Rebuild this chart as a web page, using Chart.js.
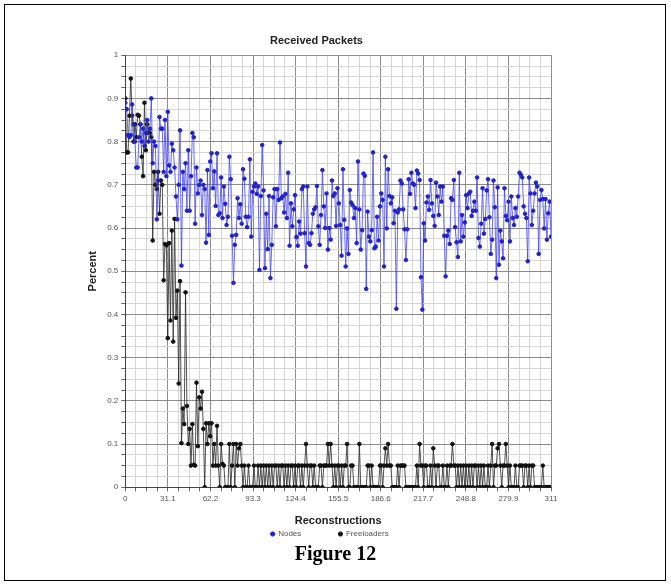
<!DOCTYPE html>
<html>
<head>
<meta charset="utf-8">
<script src="https://cdn.jsdelivr.net/npm/chart.js@4.4.0/dist/chart.umd.min.js"></script>
<style>
  html, body { margin: 0; padding: 0; background: #fff; }
  #frame {
    position: absolute; left: 4px; top: 4px; width: 662px; height: 577px;
    border: 1px solid #000; box-sizing: border-box;
  }
  #chartBox { position: absolute; left: 82px; top: 24px; width: 508px; height: 524px; }
  #caption {
    position: absolute; left: 0; top: 542px; width: 671px; text-align: center;
    font: bold 20px "Liberation Serif", "Times New Roman", serif; color: #000;
  }
</style>
</head>
<body>
<div id="frame"></div>
<div id="chartBox"><canvas id="packetsChart"></canvas></div>
<div id="caption">Figure 12</div>
<script>
// valores (indice = reconstruccion)
const seriesNames = ['Nodes', 'Freeloaders'];

const nodes = [
  0.89, 0.875, 0.815, 0.81, 0.815, 0.886, 0.84, 0.80, 0.74, 0.74,
  0.81, 0.84, 0.80, 0.83, 0.79, 0.82, 0.85, 0.80, 0.83, 0.90,
  0.75, 0.80, 0.79, 0.62, 0.71, 0.857, 0.83, 0.83, 0.73, 0.85,
  0.72, 0.869, 0.745, 0.73, 0.795, 0.78, 0.74, 0.673, 0.62, 0.70,
  0.826, 0.513, 0.73, 0.69, 0.75, 0.64, 0.78, 0.64, 0.72, 0.82,
  0.81, 0.61, 0.74, 0.68, 0.70, 0.71, 0.63, 0.70, 0.69, 0.566,
  0.734, 0.584, 0.754, 0.773, 0.692, 0.731, 0.651, 0.773, 0.630, 0.634,
  0.717, 0.623, 0.696, 0.656, 0.607, 0.626, 0.765, 0.713, 0.582, 0.473,
  0.561, 0.584, 0.669, 0.623, 0.655, 0.610, 0.736, 0.714, 0.626, 0.602,
  0.626, 0.759, 0.580, 0.684, 0.696, 0.703, 0.679, 0.696,
  0.503, 0.674, 0.792, 0.687, 0.507, 0.633, 0.551, 0.674, 0.484, 0.561,
  0.671, 0.690, 0.604, 0.690, 0.665, 0.798, 0.669, 0.673, 0.636, 0.679,
  0.623, 0.728, 0.559, 0.657, 0.604, 0.643, 0.676, 0.579, 0.559, 0.615,
  0.587, 0.690, 0.696, 0.588, 0.511, 0.696, 0.565, 0.561, 0.588,
  0.633, 0.643, 0.648, 0.697, 0.604, 0.561, 0.630, 0.734, 0.650, 0.600,
  0.680, 0.550,
  0.600, 0.573, 0.710, 0.674, 0.680, 0.605, 0.692, 0.657, 0.607, 0.536,
  0.736, 0.619, 0.511, 0.599, 0.540, 0.688, 0.659, 0.653, 0.623, 0.646,
  0.565, 0.754, 0.643, 0.550, 0.595, 0.726, 0.721, 0.459, 0.638, 0.580,
  0.569, 0.595, 0.775, 0.553, 0.557, 0.626, 0.571, 0.650, 0.680, 0.665,
  0.511, 0.765, 0.599, 0.736, 0.674, 0.657, 0.671, 0.611, 0.640, 0.413,
  0.636, 0.643, 0.710, 0.703, 0.643, 0.597, 0.526, 0.597, 0.713,
  0.679, 0.728, 0.703, 0.700, 0.646, 0.733, 0.726, 0.711, 0.486, 0.411,
  0.611, 0.571, 0.659, 0.673, 0.642, 0.711, 0.657, 0.628, 0.605,
  0.705, 0.673, 0.630, 0.696, 0.661, 0.696, 0.582, 0.488,
  0.582, 0.594, 0.563, 0.669, 0.665, 0.711, 0.602, 0.567, 0.533,
  0.728, 0.569, 0.630, 0.580, 0.613, 0.676, 0.646, 0.680, 0.684, 0.628,
  0.640, 0.661, 0.640, 0.717, 0.577, 0.557, 0.610, 0.692, 0.587, 0.621,
  0.687, 0.713, 0.625, 0.540, 0.573, 0.710, 0.648, 0.484, 0.694, 0.515,
  0.594, 0.569, 0.530, 0.692, 0.628, 0.618, 0.661, 0.569, 0.673, 0.623,
  0.607, 0.646, 0.626, 0.673, 0.728, 0.723, 0.717, 0.650, 0.633, 0.623,
  0.523, 0.717, 0.680, 0.607, 0.640, 0.680, 0.705, 0.696, 0.540, 0.665,
  0.688, 0.667, 0.599, 0.667, 0.573, 0.634, 0.661, 0.580
];

const freeloaders = [
  0.90, 0.775, 0.775, 0.86, 0.946, 0.86, 0.80, 0.84, 0.81, 0.862,
  0.86, 0.84, 0.765, 0.72, 0.89, 0.78, 0.84, 0.82, 0.82, 0.81,
  0.571, 0.73, 0.70, 0.69, 0.73, 0.633, 0.71, 0.70,
  0.479, 0.563, 0.56, 0.345, 0.565, 0.386, 0.594, 0.337, 0.621, 0.392,
  0.455, 0.24, 0.477, 0.102, 0.182, 0.146, 0.451, 0.188, 0.1, 0.135,
  0.05, 0.146, 0.052, 0.05, 0.242, 0.095, 0.208, 0.182, 0.221, 0.135,
  0, 0.148, 0.1, 0.148, 0.118, 0.148, 0.05, 0.1, 0.05, 0.142,
  0.05, 0, 0.1, 0.054, 0.05, 0, 0, 0, 0.1, 0,
  0.05, 0.1, 0, 0.1, 0.05, 0.09, 0.1, 0.05, 0, 0.05,
  0, 0, 0.05, 0, 0, 0, 0.05, 0, 0, 0.05,
  0, 0.05, 0, 0.05, 0, 0.05, 0, 0.05,
  0, 0.05, 0, 0.05, 0.05, 0, 0.05, 0, 0.05, 0.05,
  0, 0.05, 0, 0.05, 0, 0.05, 0.05, 0, 0.05, 0,
  0.05, 0.05, 0, 0.05, 0, 0.05, 0.1, 0.05, 0, 0.05,
  0.05, 0, 0.05, 0, 0, 0, 0.05, 0.05, 0, 0.05,
  0.05, 0.05, 0.1, 0.05, 0.1, 0.05, 0, 0.05, 0, 0.05,
  0.05, 0, 0.05, 0, 0.05, 0.05, 0.1, 0, 0, 0.05,
  0.05, 0, 0, 0, 0, 0.1, 0, 0, 0, 0,
  0, 0.05, 0.05, 0, 0.05, 0, 0, 0, 0, 0,
  0.05, 0.05, 0, 0.05, 0.09, 0.05, 0.1, 0.05, 0.05, 0,
  0, 0, 0, 0.05, 0, 0.05, 0.05, 0.05, 0.05, 0,
  0, 0, 0, 0, 0, 0, 0, 0.05, 0, 0.1,
  0.05, 0.05, 0, 0.05, 0.05, 0, 0, 0.05, 0, 0.09,
  0.05, 0, 0.05, 0.05, 0, 0, 0.05, 0, 0, 0.05,
  0, 0.05, 0.05, 0.1, 0.05, 0.05, 0, 0.05, 0, 0.05,
  0, 0.05, 0, 0.05, 0, 0.05, 0, 0.05, 0, 0.05,
  0.05, 0, 0.05, 0, 0.05, 0, 0.05, 0, 0, 0.05,
  0, 0.05, 0.1, 0, 0.05, 0.05, 0.09, 0.1, 0.05, 0,
  0.05, 0.05, 0.1, 0.05, 0, 0.05, 0, 0, 0, 0.05,
  0, 0, 0.05, 0.05, 0.05, 0, 0.05, 0.05, 0, 0.05,
  0, 0.05, 0.05, 0, 0, 0, 0, 0, 0, 0.05,
  0, 0, 0, 0, 0, 0
];

// etiquetas de los ejes (solo en las lineas principales)
const xTickLabels = ['0', '31.1', '62.2', '93.3', '124.4', '155.5', '186.6', '217.7', '248.8', '279.9', '311'];
const yTickLabels = ['0', '0.1', '0.2', '0.3', '0.4', '0.5', '0.6', '0.7', '0.8', '0.9', '1'];

const FONT = '"Liberation Sans", Arial, sans-serif';
const MAJOR = '#8c8c8c';
const MINOR = '#d6d6d6';

function toPoints(values) {
  return values.map((v, i) => ({ x: i, y: v }));
}

// entrada invisible, solo sirve de hueco en la leyenda
function legendGap(width) {
  return {
    text: ' '.repeat(width),
    fillStyle: 'rgba(0,0,0,0)',
    strokeStyle: 'rgba(0,0,0,0)',
    lineWidth: 0,
    pointStyle: 'circle',
    hidden: false,
    datasetIndex: -1
  };
}

function legendItems(chart) {
  const items = Chart.defaults.plugins.legend.labels.generateLabels(chart);
  return [legendGap(8), items[0], legendGap(12), items[1]];
}

function initPacketsChart() {
  const ctx = document.getElementById('packetsChart');
  if (!ctx || typeof Chart === 'undefined') {
    console.error('No se pudo iniciar el grafico');
    return;
  }

  window.packetsChart = new Chart(ctx, {
    type: 'line',
    data: {
      datasets: [
        {
          label: seriesNames[0],
          data: toPoints(nodes),
          borderColor: 'rgba(60, 60, 230, 0.75)',
          backgroundColor: '#2222cc',
          pointBackgroundColor: '#2222cc',
          pointBorderColor: '#2222cc',
          pointRadius: 1.8,
          borderWidth: 1,
          tension: 0
        },
        {
          label: seriesNames[1],
          data: toPoints(freeloaders),
          borderColor: 'rgba(40, 40, 40, 0.8)',
          backgroundColor: '#111',
          pointBackgroundColor: '#111',
          pointBorderColor: '#111',
          pointRadius: 1.8,
          borderWidth: 1,
          tension: 0
        }
      ]
    },
    options: {
      responsive: true,
      maintainAspectRatio: false,
      animation: false,
      layout: { padding: { left: 0, right: 39, top: 4, bottom: 0 } },
      plugins: {
        title: {
          display: true,
          text: 'Received Packets',
          color: '#222',
          font: { family: FONT, size: 11, weight: 'bold' },
          padding: { top: 6, bottom: 8 }
        },
        legend: {
          position: 'bottom',
          onClick: null,
          labels: {
            color: '#555',
            font: { family: FONT, size: 8 },
            usePointStyle: true,
            pointStyle: 'circle',
            boxWidth: 3,
            boxHeight: 3,
            padding: 2,
            generateLabels: legendItems
          }
        },
        tooltip: { enabled: false }
      },
      scales: {
        x: {
          type: 'linear',
          min: 0,
          max: 311,
          title: {
            display: true,
            text: 'Reconstructions',
            color: '#222',
            font: { family: FONT, size: 11, weight: 'bold' },
            padding: { top: 8, bottom: 0 }
          },
          ticks: {
            stepSize: 7.775,
            autoSkip: false,
            maxRotation: 0,
            color: '#555',
            font: { family: FONT, size: 8 },
            callback: (value, index) => index % 4 === 0 ? xTickLabels[index / 4] : ''
          },
          grid: {
            color: (c) => c.index % 4 === 0 ? MAJOR : MINOR,
            tickColor: '#666',
            tickLength: 4
          },
          border: { color: '#444' }
        },
        y: {
          min: 0,
          max: 1,
          title: {
            display: true,
            text: 'Percent',
            color: '#222',
            font: { family: FONT, size: 11, weight: 'bold' },
            padding: { top: 4, bottom: 5 }
          },
          ticks: {
            stepSize: 0.025,
            autoSkip: false,
            color: '#555',
            font: { family: FONT, size: 8 },
            callback: (value, index) => index % 4 === 0 ? yTickLabels[index / 4] : ''
          },
          grid: {
            color: (c) => c.index % 4 === 0 ? MAJOR : MINOR,
            tickColor: '#666',
            tickLength: 4
          },
          border: { color: '#444' }
        }
      }
    }
  });
}

initPacketsChart();
</script>
</body>
</html>
